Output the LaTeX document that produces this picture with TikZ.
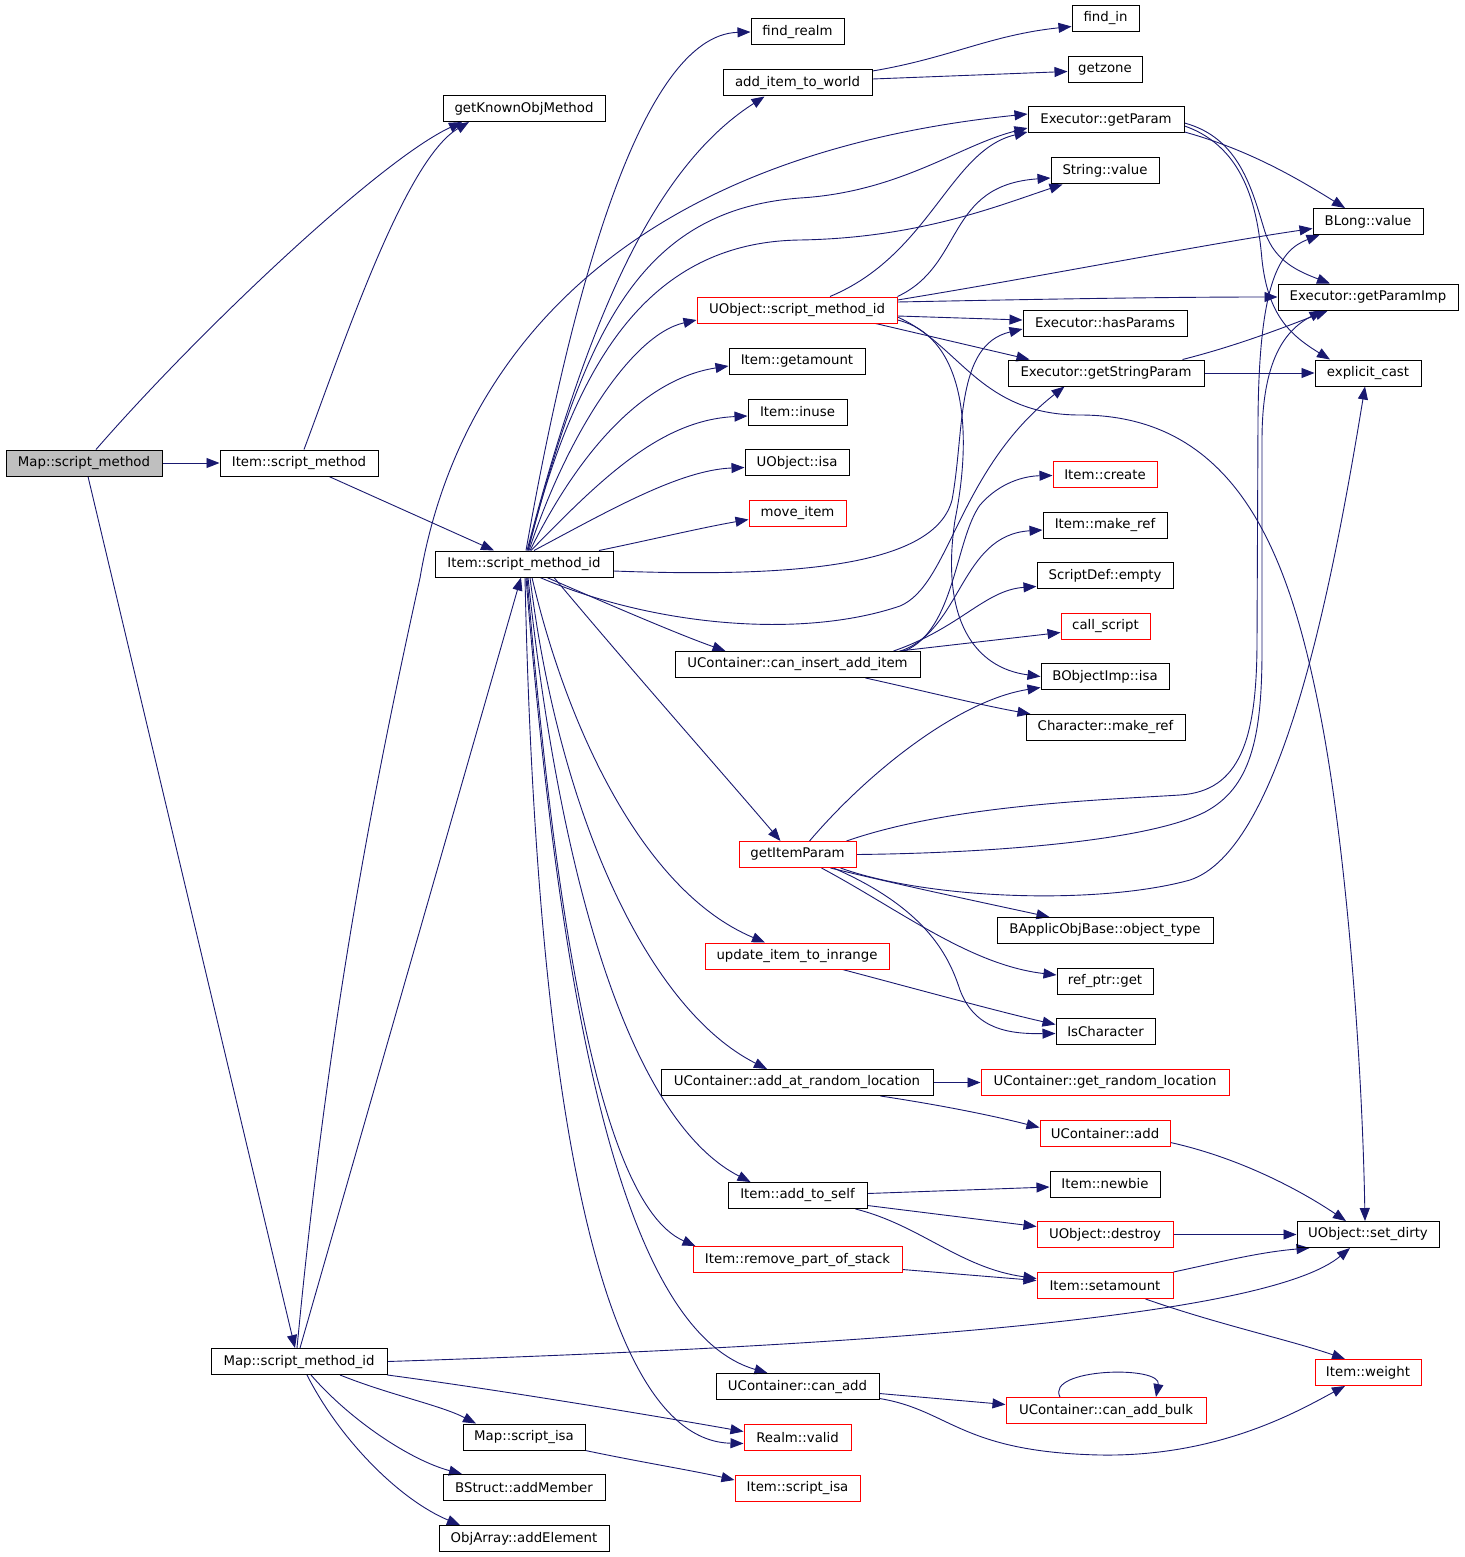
\documentclass[tikz,border=0pt]{standalone}
\usepackage{fontspec}
\setmainfont{DejaVu Sans}
\usetikzlibrary{calc,arrows.meta}
\definecolor{edgeblue}{HTML}{191970}
\definecolor{boxgray}{HTML}{BFBFBF}
\pgfdeclarelayer{bg}
\pgfdeclarelayer{paper}
\pgfsetlayers{paper,bg,main}
\begin{document}
\begin{tikzpicture}[x=1pt,y=-1pt,
  box/.style={draw=black, line width=1pt, minimum height=26pt, inner sep=0pt, font=\fontsize{13.3}{16}\selectfont, text=black},
  rbox/.style={box, draw=red},
  gbox/.style={box, fill=boxgray},
  cg/.style={draw=edgeblue, line width=0.9pt, -{Triangle[length=13pt,width=10pt]}}]
\begin{pgfonlayer}{paper}
\fill[white] (0,0) rectangle (1464,1557);
\end{pgfonlayer}
\useasboundingbox (0,0) rectangle (1464,1557);
% nodes
\node[gbox, minimum width=156] (msm) at (84,463) {Map::script\_method};
\node[box, minimum width=158] (ism) at (299,463) {Item::script\_method};
\node[box, minimum width=162] (gkom) at (524,108.5) {getKnownObjMethod};
\node[box, minimum width=93] (frealm) at (797.5,32) {find\_realm};
\node[box, minimum width=149] (aitw) at (797.5,83) {add\_item\_to\_world};
\node[box, minimum width=67] (findin) at (1105.5,18.5) {find\_in};
\node[box, minimum width=74] (getzone) at (1105,69.5) {getzone};
\node[box, minimum width=156] (egp) at (1106,120) {Executor::getParam};
\node[box, minimum width=108] (sval) at (1105,171) {String::value};
\node[box, minimum width=110] (blong) at (1368,221.5) {BLong::value};
\node[box, minimum width=180] (egpi) at (1368,297) {Executor::getParamImp};
\node[rbox, minimum width=200] (uosmi) at (797,310) {UObject::script\_method\_id};
\node[box, minimum width=164] (ehp) at (1105,323) {Executor::hasParams};
\node[box, minimum width=196] (egsp) at (1106,373) {Executor::getStringParam};
\node[box, minimum width=106] (ecast) at (1368,373) {explicit\_cast};
\node[box, minimum width=136] (iga) at (797,361) {Item::getamount};
\node[box, minimum width=99] (iinuse) at (797.5,412) {Item::inuse};
\node[box, minimum width=104] (uoisa) at (797,462.5) {UObject::isa};
\node[rbox, minimum width=97] (mvitem) at (797.5,513.5) {move\_item};
\node[box, minimum width=178] (ismi) at (524,564) {Item::script\_method\_id};
\node[rbox, minimum width=104] (icreate) at (1105,474.5) {Item::create};
\node[box, minimum width=124] (imref) at (1105,525) {Item::make\_ref};
\node[box, minimum width=136] (sdempty) at (1105,575.5) {ScriptDef::empty};
\node[rbox, minimum width=89] (cscript) at (1105.5,626.5) {call\_script};
\node[box, minimum width=245] (ucia) at (797.5,664.5) {UContainer::can\_insert\_add\_item};
\node[box, minimum width=128] (boisa) at (1105,676.5) {BObjectImp::isa};
\node[box, minimum width=159] (cmref) at (1105.5,727.5) {Character::make\_ref};
\node[rbox, minimum width=117] (gip) at (797.5,854.5) {getItemParam};
\node[box, minimum width=216] (baot) at (1105,930.5) {BApplicObjBase::object\_type};
\node[rbox, minimum width=184] (uitir) at (797,956) {update\_item\_to\_inrange};
\node[box, minimum width=96] (rpget) at (1105,981) {ref\_ptr::get};
\node[box, minimum width=99] (ischar) at (1105.5,1031.5) {IsCharacter};
\node[box, minimum width=272] (uaarl) at (797,1082.5) {UContainer::add\_at\_random\_location};
\node[rbox, minimum width=248] (ugrl) at (1105,1082.5) {UContainer::get\_random\_location};
\node[rbox, minimum width=130] (uadd) at (1105,1133.5) {UContainer::add};
\node[box, minimum width=139] (iats) at (797.5,1195.5) {Item::add\_to\_self};
\node[box, minimum width=110] (inewbie) at (1105,1184) {Item::newbie};
\node[rbox, minimum width=136] (uodes) at (1105,1234.5) {UObject::destroy};
\node[box, minimum width=142] (uosd) at (1368,1234.5) {UObject::set\_dirty};
\node[rbox, minimum width=209] (irpos) at (797.5,1259.5) {Item::remove\_part\_of\_stack};
\node[rbox, minimum width=136] (isetamt) at (1105,1285.5) {Item::setamount};
\node[rbox, minimum width=106] (iweight) at (1368,1372.5) {Item::weight};
\node[box, minimum width=176] (msmi) at (299,1361.5) {Map::script\_method\_id};
\node[box, minimum width=163] (ucadd) at (797.5,1386.5) {UContainer::can\_add};
\node[rbox, minimum width=200] (ucab) at (1106,1410.5) {UContainer::can\_add\_bulk};
\node[box, minimum width=122] (msisa) at (524,1437) {Map::script\_isa};
\node[rbox, minimum width=107] (rvalid) at (797.5,1437.5) {Realm::valid};
\node[box, minimum width=162] (bsam) at (524,1487.5) {BStruct::addMember};
\node[rbox, minimum width=125] (iscisa) at (797.5,1488) {Item::script\_isa};
\node[box, minimum width=170] (oaae) at (524,1538.5) {ObjArray::addElement};
% edges
\begin{pgfonlayer}{bg}
\draw[cg] (msm.east) -- (ism.west);
\draw[cg] ($(msm.north)+(12,0)$) .. controls (200,330) and (380,160) .. ($(gkom.south)+(-62,0)$);
\draw[cg] ($(ism.north)+(5,0)$) .. controls (345,340) and (405,160) .. ($(gkom.south)+(-55,0)$);
\draw[cg] ($(ism.south)+(30,0)$) -- ($(ismi.north)+(-30,0)$);
\draw[cg] ($(msm.south)+(4,0)$) -- ($(msmi.north)+(-4,0)$);
\draw[cg] ($(msmi.north)+(1,0)$) -- ($(ismi.south)+(-3,0)$);
\draw[cg] ($(msmi.north)+(-2,0)$) .. controls (330,1000) and (380,760) .. (420,578) .. controls (450,400) and (580,160) .. ($(egp.west)+(0,-6)$);
\draw[cg] (msmi.east) .. controls (900,1345) and (1270,1315) .. ($(uosd.south)+(-18,0)$);
\draw[cg] (msmi.south east) .. controls (500,1390) and (650,1415) .. ($(rvalid.west)+(0,-6)$);
\draw[cg] ($(msmi.south)+(41,0)$) .. controls (390,1395) and (440,1405) .. ($(msisa.north)+(-48,0)$);
\draw[cg] ($(msmi.south)+(12,0)$) .. controls (350,1420) and (410,1460) .. ($(bsam.north)+(-62,0)$);
\draw[cg] ($(msmi.south)+(8,0)$) .. controls (340,1440) and (400,1500) .. ($(oaae.north)+(-64,0)$);
\draw[cg] (msisa.south east) .. controls (640,1462) and (690,1470) .. ($(iscisa.west)+(0,-8)$);
% fan from Item::script_method_id
\draw[cg] ($(ismi.north)+(2,0)$) .. controls (570,300) and (640,35) .. (frealm.west);
\draw[cg] ($(ismi.north)+(3,0)$) .. controls (585,330) and (650,170) .. ($(aitw.south)+(-33,0)$);
\draw[cg] ($(ismi.north)+(4,0)$) .. controls (585,330) and (640,210) .. (800,198) .. controls (900,192) and (960,145) .. ($(egp.west)+(0,8)$);
\draw[cg] ($(ismi.north)+(4,0)$) .. controls (575,360) and (650,242) .. (800,240) .. controls (920,238) and (1000,205) .. ($(sval.south west)+(12,0)$);
\draw[cg] ($(ismi.north)+(5,0)$) .. controls (565,440) and (630,335) .. ($(uosmi.west)+(0,10)$);
\draw[cg] ($(ismi.north)+(6,0)$) .. controls (585,440) and (650,378) .. ($(iga.west)+(0,5)$);
\draw[cg] ($(ismi.north)+(7,0)$) .. controls (600,480) and (660,420) .. ($(iinuse.west)+(0,4)$);
\draw[cg] ($(ismi.north)+(10,0)$) .. controls (610,510) and (680,470) .. ($(uoisa.west)+(0,5)$);
\draw[cg] ($(ismi.north)+(75,0)$) .. controls (650,540) and (700,528) .. ($(mvitem.west)+(0,6)$);
\draw[cg] ($(ismi.east)+(0,7)$) .. controls (800,578) and (935,565) .. (952,500) .. controls (965,430) and (955,345) .. ($(ehp.west)+(0,6)$);
\draw[cg] ($(ismi.south)+(16,0)$) .. controls (650,625) and (800,640) .. (900,606) .. controls (950,585) and (958,470) .. ($(egsp.south west)+(57,0)$);
\draw[cg] ($(ismi.south)+(23,0)$) .. controls (610,605) and (680,635) .. ($(ucia.north)+(-72,0)$);
\draw[cg] ($(ismi.south)+(30,0)$) .. controls (640,680) and (720,770) .. ($(gip.north)+(-17,0)$);
\draw[cg] ($(ismi.south)+(8,0)$) .. controls (565,720) and (640,890) .. ($(uitir.north)+(-32,0)$);
\draw[cg] ($(ismi.south)+(6,0)$) .. controls (560,820) and (650,1010) .. ($(uaarl.north)+(-30,0)$);
\draw[cg] ($(ismi.south)+(4,0)$) .. controls (560,880) and (630,1120) .. ($(iats.north)+(-47,0)$);
\draw[cg] ($(ismi.south)+(3,0)$) .. controls (550,850) and (590,1200) .. ($(irpos.north)+(-102,0)$);
\draw[cg] ($(ismi.south)+(2,0)$) .. controls (560,1000) and (620,1330) .. ($(ucadd.north)+(-30,0)$);
\draw[cg] ($(ismi.south)+(1,0)$) .. controls (535,1050) and (590,1440) .. ($(rvalid.west)+(0,6)$);
% UObject::script_method_id
\draw[cg] ($(uosmi.north)+(33,0)$) .. controls (930,255) and (950,150) .. ($(egp.west)+(0,12)$);
\draw[cg] (uosmi.north east) .. controls (965,265) and (945,185) .. ($(sval.west)+(0,7)$);
\draw[cg] ($(uosmi.east)+(0,-10)$) .. controls (1050,275) and (1200,245) .. ($(blong.west)+(0,7)$);
\draw[cg] ($(uosmi.east)+(0,-8)$) .. controls (1000,300) and (1150,297) .. (egpi.west);
\draw[cg] ($(uosmi.east)+(0,6)$) -- ($(ehp.west)+(0,-3)$);
\draw[cg] ($(uosmi.south east)+(-22,0)$) -- ($(egsp.north west)+(22,0)$);
\draw[cg] ($(uosmi.east)+(0,10)$) .. controls (960,335) and (975,420) .. (955,520) .. controls (940,620) and (975,668) .. (boisa.west);
\draw[cg] ($(uosmi.east)+(0,7)$) .. controls (960,345) and (980,415) .. (1080,415) .. controls (1240,415) and (1290,560) .. (1320,713) .. controls (1345,840) and (1362,1050) .. ($(uosd.north)+(-3,0)$);
% Executor::getParam
\draw[cg] ($(egp.east)+(0,12)$) .. controls (1250,150) and (1300,180) .. ($(blong.north)+(-23,0)$);
\draw[cg] ($(egp.east)+(0,3)$) .. controls (1240,138) and (1252,190) .. (1265,232) .. controls (1275,262) and (1300,272) .. ($(egpi.north)+(-38,0)$);
\draw[cg] ($(egp.east)+(0,6)$) .. controls (1248,148) and (1258,215) .. (1262,260) .. controls (1268,315) and (1290,335) .. ($(ecast.north)+(-38,0)$);
% Executor::getStringParam
\draw[cg] ($(egsp.north east)+(-22,0)$) .. controls (1240,345) and (1290,325) .. ($(egpi.south)+(-40,0)$);
\draw[cg] (egsp.east) -- (ecast.west);
% add_item_to_world
\draw[cg] ($(aitw.east)+(0,-12)$) .. controls (950,58) and (990,35) .. ($(findin.west)+(0,8)$);
\draw[cg] ($(aitw.east)+(0,-4)$) -- ($(getzone.west)+(0,2)$);
% UContainer::can_insert_add_item
\draw[cg] ($(ucia.north)+(107,0)$) .. controls (955,630) and (955,540) .. (980,505) .. controls (1000,482) and (1025,476) .. ($(icreate.west)+(0,1)$);
\draw[cg] ($(ucia.north)+(103,0)$) .. controls (962,630) and (960,535) .. ($(imref.west)+(0,5)$);
\draw[cg] ($(ucia.north)+(96,0)$) .. controls (960,628) and (985,590) .. ($(sdempty.west)+(0,11)$);
\draw[cg] ($(ucia.north)+(102,0)$) -- ($(cscript.west)+(0,6)$);
\draw[cg] ($(ucia.south)+(68,0)$) .. controls (920,690) and (980,705) .. ($(cmref.north west)+(5,0)$);
% getItemParam
\draw[cg] ($(gip.north)+(12,0)$) .. controls (870,770) and (960,700) .. ($(boisa.west)+(0,11)$);
\draw[cg] ($(gip.north east)+(-10,0)$) .. controls (950,805) and (1100,800) .. (1180,795) .. controls (1240,791) and (1257,740) .. (1257,640) -- (1258,420) .. controls (1259,280) and (1280,250) .. ($(blong.south west)+(7,0)$);
\draw[cg] (gip.east) .. controls (1000,853) and (1150,840) .. (1205,812) .. controls (1250,788) and (1262,740) .. (1262,650) -- (1262,440) .. controls (1262,360) and (1285,330) .. ($(egpi.south west)+(45,0)$);
\draw[cg] ($(gip.south east)+(-16,0)$) .. controls (930,900) and (1100,905) .. (1190,880) .. controls (1280,850) and (1330,600) .. ($(ecast.south)+(-3,0)$);
\draw[cg] ($(gip.south east)+(-26,0)$) .. controls (900,885) and (980,902) .. ($(baot.north west)+(53,0)$);
\draw[cg] ($(gip.south)+(24,0)$) .. controls (900,910) and (970,965) .. ($(rpget.west)+(0,-6)$);
\draw[cg] ($(gip.south)+(36,0)$) .. controls (930,910) and (950,960) .. (960,990) .. controls (975,1030) and (1010,1034) .. ($(ischar.west)+(0,2)$);
\draw[cg] ($(uitir.south east)+(-47,0)$) .. controls (920,990) and (1000,1012) .. ($(ischar.west)+(0,-7)$);
% lower part
\draw[cg] (uaarl.east) -- (ugrl.west);
\draw[cg] ($(uaarl.south east)+(-53,0)$) .. controls (940,1105) and (990,1115) .. ($(uadd.west)+(0,-6)$);
\draw[cg] ($(uadd.east)+(0,9)$) .. controls (1240,1158) and (1300,1190) .. ($(uosd.north)+(-22,0)$);
\draw[cg] ($(iats.east)+(0,-2)$) -- ($(inewbie.west)+(0,3)$);
\draw[cg] ($(iats.east)+(0,10)$) -- ($(uodes.west)+(0,-8)$);
\draw[cg] ($(iats.south east)+(-12,0)$) .. controls (920,1225) and (960,1268) .. ($(isetamt.west)+(0,-7)$);
\draw[cg] (uodes.east) -- (uosd.west);
\draw[cg] ($(irpos.east)+(0,10)$) -- ($(isetamt.west)+(0,-5)$);
\draw[cg] (isetamt.north east) .. controls (1220,1262) and (1260,1252) .. ($(uosd.south west)+(13,0)$);
\draw[cg] ($(isetamt.south east)+(-28,0)$) .. controls (1220,1325) and (1290,1340) .. ($(iweight.north)+(-23,0)$);
\draw[cg] ($(ucadd.east)+(0,7)$) -- ($(ucab.west)+(0,-6)$);
\draw[cg] ($(ucadd.east)+(0,12)$) .. controls (950,1410) and (960,1452) .. (1100,1455) .. controls (1220,1457) and (1300,1410) .. ($(iweight.south)+(-23,0)$);
\draw[cg] ($(ucab.north)+(-46,0)$) .. controls (1045,1368) and (1162,1365) .. ($(ucab.north)+(50,0)$);
\end{pgfonlayer}
\end{tikzpicture}
\end{document}
